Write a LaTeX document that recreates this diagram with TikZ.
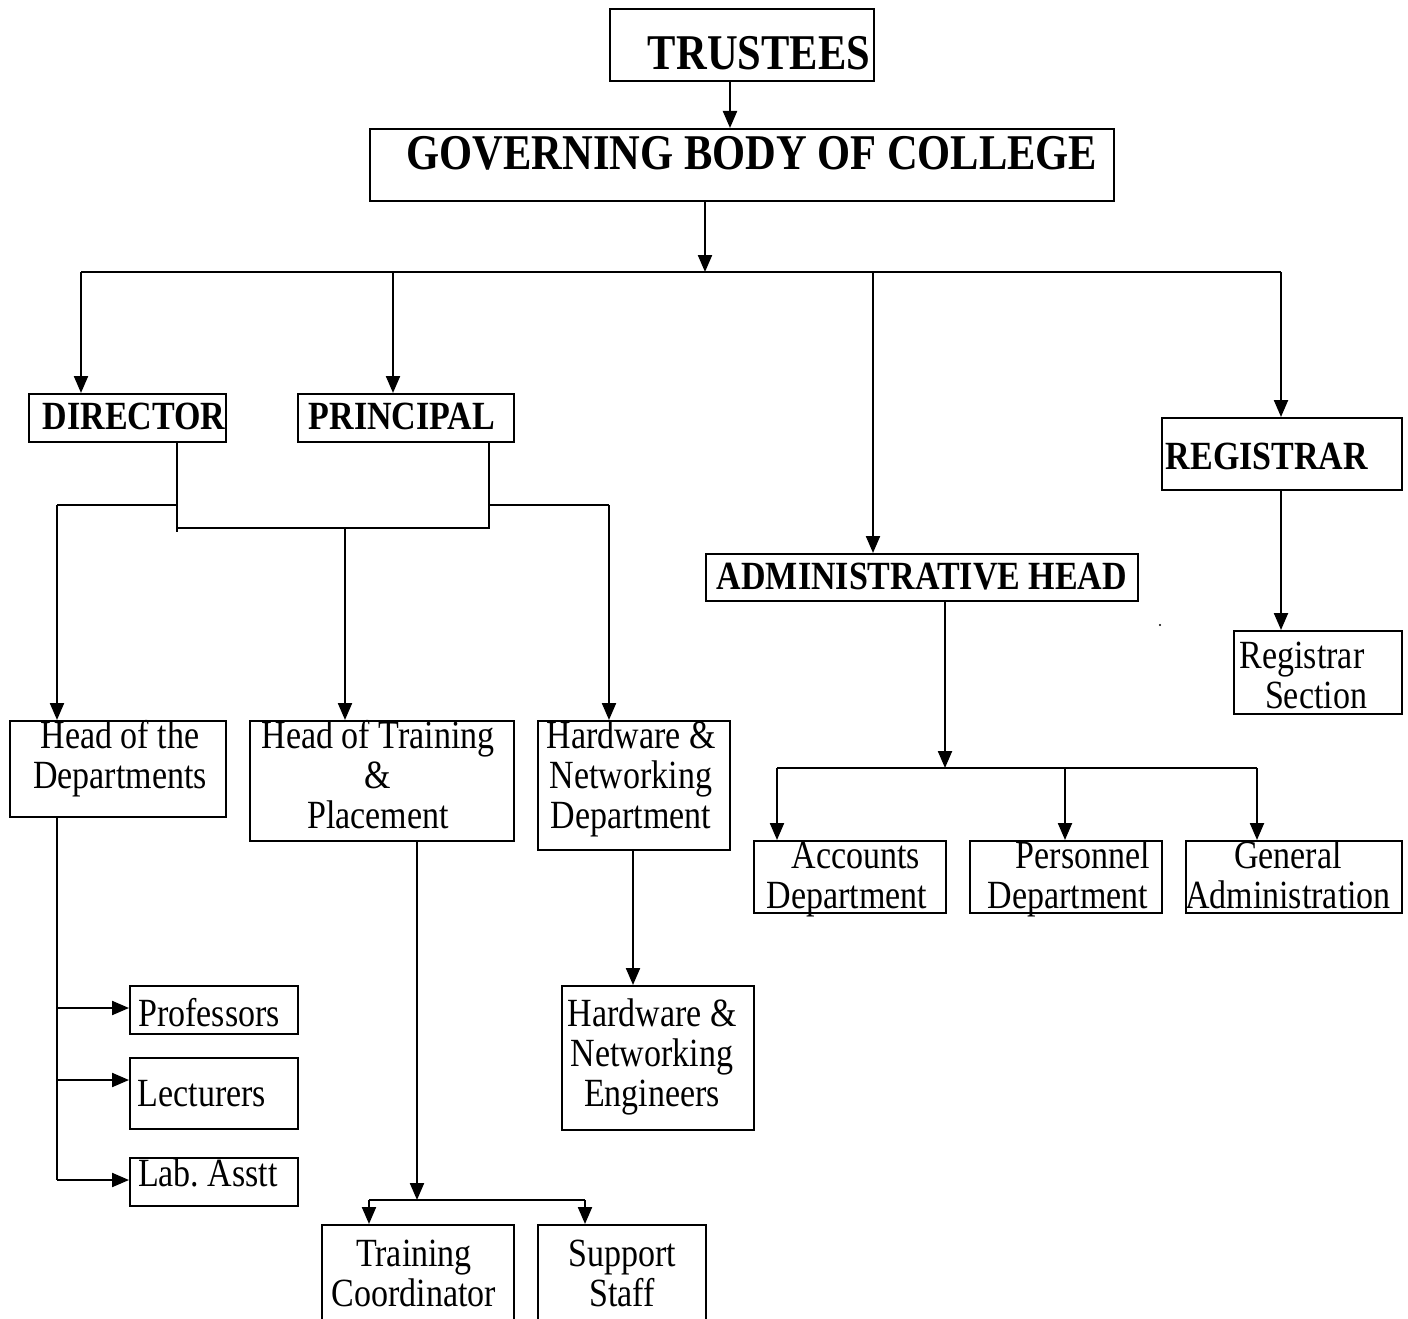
\documentclass[tikz,border=0pt]{standalone}
\usepackage{fontspec}
\setmainfont{Liberation Serif}[FakeStretch=0.85]
\usetikzlibrary{arrows.meta}
\newcommand{\mlines}[1]{\begin{tabular}[t]{@{}c@{}}#1\end{tabular}}
\begin{document}
\begin{tikzpicture}[x=1pt,y=-1pt,
  box/.style={draw, line width=2pt, inner sep=0pt, anchor=north west},
  ln/.style={line width=2.2pt},
  arr/.style={line width=2.2pt, -{Triangle[length=17pt,width=14pt]}},
  txt/.style={font=\fontsize{40}{40}\selectfont, inner sep=0pt, anchor=base},
  btxt/.style={font=\fontsize{40}{40}\selectfont\bfseries, inner sep=0pt, anchor=base},
  bigtxt/.style={font=\fontsize{50}{50}\selectfont\bfseries, inner sep=0pt, anchor=base}]
\useasboundingbox (0,0) rectangle (1408,1319);
\fill[white] (0,0) rectangle (1408,1319);
\clip (0,0) rectangle (1408,1319);

% boxes
\node[box, minimum width=264pt, minimum height=72pt] (tr) at (609,8) {};
\node[box, minimum width=744pt, minimum height=72pt] (gov) at (369,128) {};
\node[box, minimum width=197pt, minimum height=48pt] (dir) at (28,393) {};
\node[box, minimum width=216pt, minimum height=48pt] (pri) at (297,393) {};
\node[box, minimum width=240pt, minimum height=72pt] (reg) at (1161,417) {};
\node[box, minimum width=432pt, minimum height=47pt] (adm) at (705,553) {};
\node[box, minimum width=216pt, minimum height=96pt] (hod) at (9,720) {};
\node[box, minimum width=264pt, minimum height=120pt] (htp) at (249,720) {};
\node[box, minimum width=192pt, minimum height=129pt] (hnd) at (537,720) {};
\node[box, minimum width=168pt, minimum height=48pt] (prof) at (129,985) {};
\node[box, minimum width=168pt, minimum height=71pt] (lect) at (129,1057) {};
\node[box, minimum width=168pt, minimum height=48pt] (lab) at (129,1157) {};
\node[box, minimum width=192pt, minimum height=144pt] (hne) at (561,985) {};
\node[box, minimum width=192pt, minimum height=110pt] (tc) at (321,1224) {};
\node[box, minimum width=168pt, minimum height=110pt] (ss) at (537,1224) {};
\node[box, minimum width=192pt, minimum height=72pt] (acc) at (753,840) {};
\node[box, minimum width=192pt, minimum height=72pt] (per) at (969,840) {};
\node[box, minimum width=216pt, minimum height=72pt] (gen) at (1185,840) {};
\node[box, minimum width=168pt, minimum height=83pt] (rs) at (1233,630) {};

% texts
\node[bigtxt] (ttr) at (759,70) {TRUSTEES};
\node[bigtxt] (tgov) at (752,169) {GOVERNING BODY OF COLLEGE};
\node[btxt] (tdir) at (134,429) {DIRECTOR};
\node[btxt] (tpri) at (402,429) {PRINCIPAL};
\node[btxt] (treg) at (1267,469) {REGISTRAR};
\node[btxt] (tadm) at (922,589) {ADMINISTRATIVE HEAD};
\node[txt] (thod) at (120,748) {\mlines{Head of the\\Departments}};
\node[txt] (thtp) at (378,748) {\mlines{Head of Training\\\&\\Placement}};
\node[txt] (thnd) at (631,748) {\mlines{Hardware \&\\Networking\\Department}};
\node[txt] (tprof) at (209,1026) {Professors};
\node[txt] (tlect) at (202,1106) {Lecturers};
\node[txt] (tlab) at (208,1186) {Lab.\ Asstt};
\node[txt] (thne) at (652,1026) {\mlines{Hardware \&\\Networking\\Engineers}};
\node[txt] (ttc) at (414,1266) {\mlines{Training\\Coordinator}};
\node[txt] (tss) at (622,1266) {\mlines{Support\\Staff}};
\node[txt] (tacc) at (847,868) {\mlines{\hspace*{18pt}Accounts\\Department}};
\node[txt] (tper) at (1068,868) {\mlines{\hspace*{30pt}Personnel\\Department}};
\node[txt] (tgen) at (1288,868) {\mlines{General\\Administration}};
\node[txt] (trs) at (1302,668) {\mlines{Registrar\\\hspace*{28pt}Section}};

% junction coordinates
\coordinate (xa) at (730,0);
\coordinate (bus) at (705,272);
\coordinate (busL) at (81,272);
\coordinate (busP) at (393,272);
\coordinate (busA) at (873,272);
\coordinate (busR) at (1281,272);
\coordinate (d0) at (177,0);
\coordinate (p0) at (489,0);
\coordinate (dA) at (177,505);
\coordinate (dB) at (177,528);
\coordinate (pA) at (489,505);
\coordinate (pB) at (489,528);
\coordinate (l1) at (57,505);
\coordinate (r1) at (609,505);
\coordinate (m1) at (345,528);
\coordinate (h0) at (57,0);
\coordinate (hE) at (57,1180);
\coordinate (y1) at (0,1008);
\coordinate (y2) at (0,1080);
\coordinate (y3) at (0,1180);
\coordinate (t0) at (417,0);
\coordinate (tj) at (417,1200);
\coordinate (tL) at (369,1200);
\coordinate (tR) at (585,1200);
\coordinate (w0) at (633,0);
\coordinate (a0) at (945,0);
\coordinate (aj) at (945,768);
\coordinate (aL) at (777,768);
\coordinate (aM) at (1065,768);
\coordinate (aR) at (1257,768);

% connectors
\draw[arr] (tr.south -| xa) -- (gov.north -| xa);
\draw[arr] (gov.south -| bus) -- (bus);
\draw[ln] (busL) -- (busR);
\draw[arr] (busL) -- (busL |- dir.north);
\draw[arr] (busP) -- (busP |- pri.north);
\draw[arr] (busA) -- (busA |- adm.north);
\draw[arr] (busR) -- (busR |- reg.north);

\draw[ln] (dir.south -| d0) -- ([yshift=-4pt]dB);
\draw[ln] (pri.south -| p0) -- (pB) -- (dB);
\draw[ln] (dA) -- (l1);
\draw[ln] (pA) -- (r1);
\draw[arr] (l1) -- (l1 |- hod.north);
\draw[arr] (m1) -- (m1 |- htp.north);
\draw[arr] (r1) -- (r1 |- hnd.north);

\draw[ln] (hod.south -| h0) -- (hE);
\draw[arr] (h0 |- y1) -- (prof.west |- y1);
\draw[arr] (h0 |- y2) -- (lect.west |- y2);
\draw[arr] (h0 |- y3) -- (lab.west |- y3);

\draw[arr] (htp.south -| t0) -- (tj);
\draw[ln] (tL) -- (tR);
\draw[arr] (tL) -- (tL |- tc.north);
\draw[arr] (tR) -- (tR |- ss.north);

\draw[arr] (hnd.south -| w0) -- (hne.north -| w0);

\draw[arr] (adm.south -| a0) -- (aj);
\draw[ln] (aL) -- (aR);
\draw[arr] (aL) -- (aL |- acc.north);
\draw[arr] (aM) -- (aM |- per.north);
\draw[arr] (aR) -- (aR |- gen.north);

\draw[arr] (reg.south -| busR) -- (rs.north -| busR);

\fill (1160,625) circle (1.2);
\end{tikzpicture}
\end{document}
